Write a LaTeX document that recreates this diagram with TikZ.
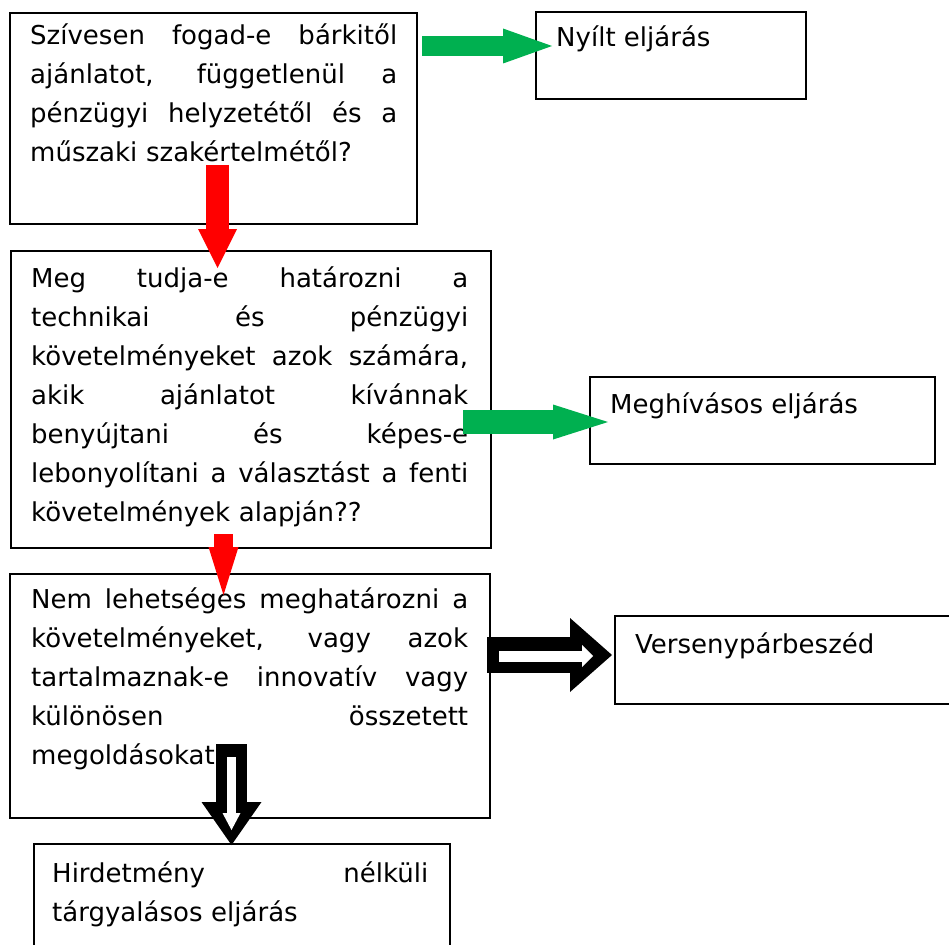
\documentclass[tikz,border=0pt]{standalone}
\usepackage{fontspec}
\setmainfont{DejaVu Sans}
\usetikzlibrary{arrows.meta}
\definecolor{okgreen}{RGB}{0,176,80}
\definecolor{okred}{RGB}{255,0,0}
% one justified line of a box text: width, words
\newcommand{\jl}[2]{\makebox[#1][s]{\spaceskip=0pt\xspaceskip=0pt #2}\\}

\begin{document}
\begin{tikzpicture}[x=1pt,y=-1pt,
    box/.style={draw,line width=1.6pt,anchor=north west,inner sep=0pt},
    txt/.style={anchor=base west,inner sep=0pt,align=left,font=\fontsize{26}{39}\selectfont},
    blk/.style n args={4}{draw=#1,line width=#2,-{Triangle[width=#3,length=#4,line width=0pt]}}]
    \useasboundingbox (0,0) rectangle (949,944);

    % boxes
    \node[box,minimum width=407pt,minimum height=211pt] (q1) at (9,12) {};
    \node[box,minimum width=270pt,minimum height=87pt] (nyilt) at (535,11) {};
    \node[box,minimum width=480pt,minimum height=297pt] (q2) at (10,250) {};
    \node[box,minimum width=345pt,minimum height=87pt] (meghiv) at (589,376) {};
    \node[box,minimum width=480pt,minimum height=244pt] (q3) at (9,573) {};
    \node[box,minimum width=360pt,minimum height=88pt] (verseny) at (614,615) {};
    \node[box,minimum width=416pt,minimum height=130pt] (hirdet) at (33,843) {};

    % texts
    \node[txt,text width=367pt] (t1) at (30,45) {\jl{367pt}{Szívesen fogad-e bárkitől}\jl{367pt}{ajánlatot, függetlenül a}\jl{367pt}{pénzügyi helyzetétől és a}műszaki szakértelmétől?};
    \node[txt] (tn) at (556,47) {Nyílt eljárás};
    \node[txt,text width=437pt] (t2) at (31,287) {\jl{437pt}{Meg tudja-e határozni a}\jl{437pt}{technikai és pénzügyi}\jl{437pt}{követelményeket azok számára,}\jl{437pt}{akik ajánlatot kívánnak}\jl{437pt}{benyújtani és képes-e}\jl{437pt}{lebonyolítani a választást a fenti}követelmények alapján??};
    \node[txt] (tm) at (610,413) {Meghívásos eljárás};
    \node[txt,text width=437pt] (t3) at (31,608) {\jl{437pt}{Nem lehetséges meghatározni a}\jl{437pt}{követelményeket, vagy azok}\jl{437pt}{tartalmaznak-e innovatív vagy}\jl{437pt}{különösen összetett}megoldásokat?};
    \node[txt] (tv) at (635,653) {Versenypárbeszéd};
    \node[txt,text width=376pt] (t4) at (52,882) {\jl{376pt}{Hirdetmény nélküli}tárgyalásos eljárás};

    % arrow ends
    \coordinate (g1a) at (422,46);  \coordinate (g1b) at (552,46);
    \coordinate (r1a) at (217.5,165); \coordinate (r1b) at (217.5,268);
    \coordinate (g2a) at (463,422); \coordinate (g2b) at (608,422);
    \coordinate (r2a) at (223.5,534); \coordinate (r2b) at (223.5,595);
    \coordinate (b1a) at (487,655); \coordinate (b1b) at (612,655);
    \coordinate (w1a) at (499,656); \coordinate (w1b) at (593,656);
    \coordinate (b2a) at (231.5,744); \coordinate (b2b) at (231.5,845);
    \coordinate (w2a) at (231.5,757); \coordinate (w2b) at (231.5,830);

    % arrows
    \draw[blk={okgreen}{20pt}{35pt}{49pt}] (g1a) -- (g1b);
    \draw[blk={okred}{23pt}{39pt}{39pt}] (r1a) -- (r1b);
    \draw[blk={okgreen}{24pt}{35pt}{55pt}] (g2a) -- (g2b);
    \draw[blk={okred}{19pt}{30pt}{48pt}] (r2a) -- (r2b);
    \draw[blk={black}{36pt}{74pt}{42pt}] (b1a) -- (b1b);
    \draw[blk={white}{11pt}{22pt}{11pt}] (w1a) -- (w1b);
    \draw[blk={black}{31pt}{60pt}{43pt}] (b2a) -- (b2b);
    \draw[blk={white}{9pt}{18pt}{17pt}] (w2a) -- (w2b);
\end{tikzpicture}
\end{document}
